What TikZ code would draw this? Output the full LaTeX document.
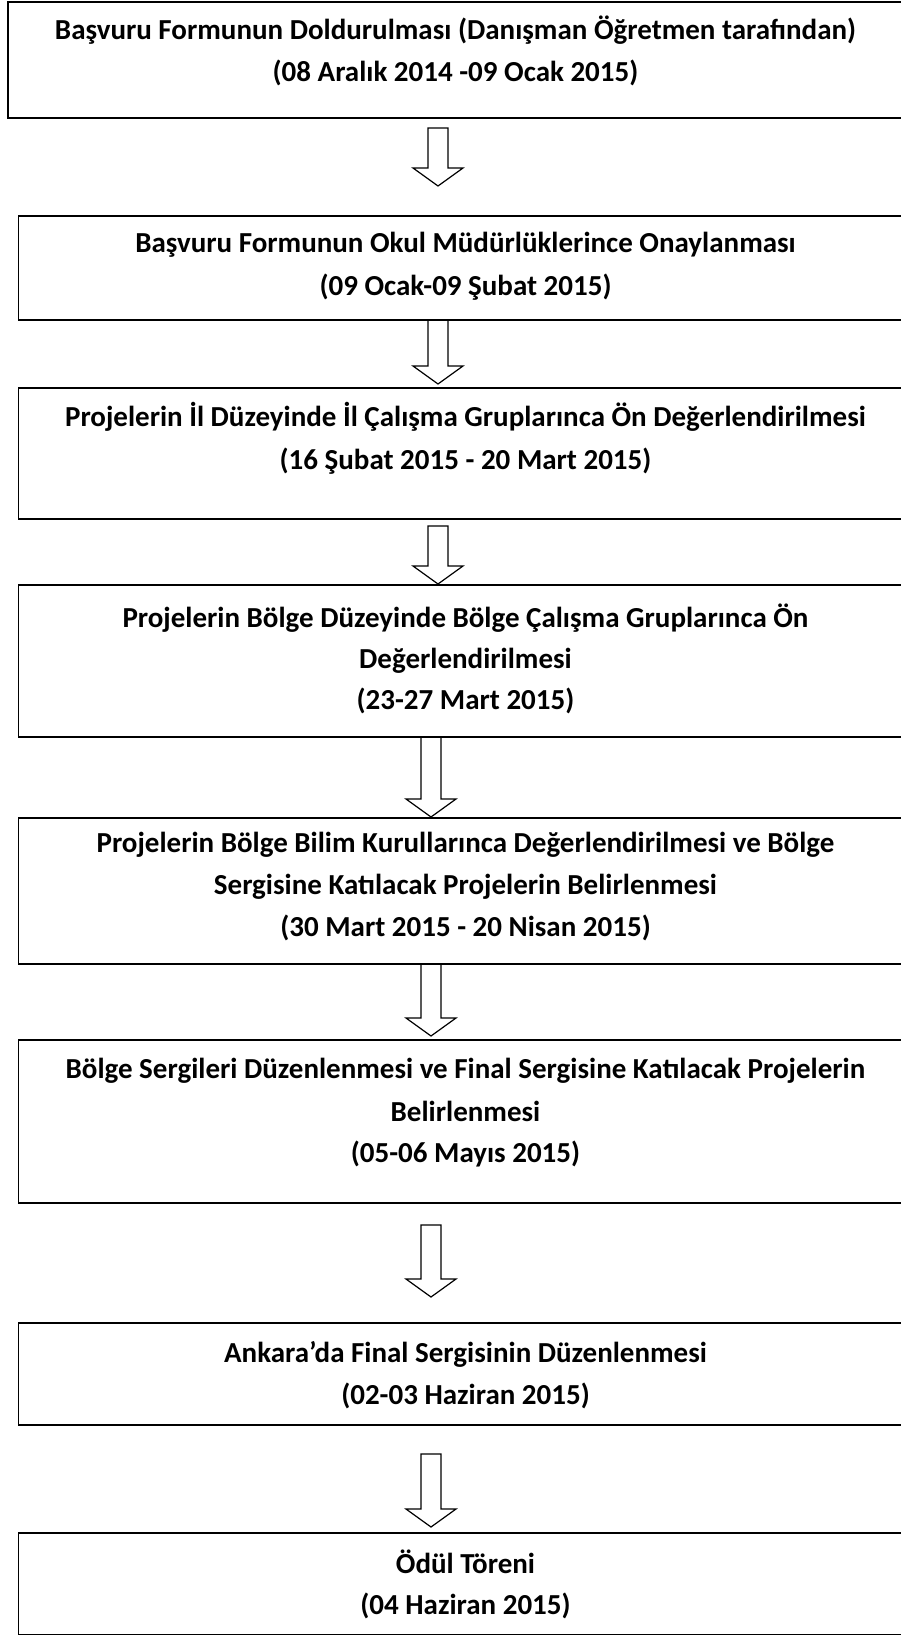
\documentclass[tikz,border=0pt]{standalone}
\usepackage{fontspec}
\setmainfont{Carlito}
\usetikzlibrary{calc}
\tikzset{
  box/.style={draw=black, line width=1.6pt, inner sep=0pt, anchor=north west, minimum width=896pt},
  txt/.style={font=\bfseries\fontsize{29}{34}\selectfont, anchor=base, inner sep=0pt},
  arrowline/.style={draw=black, line width=1.2pt, fill=white, line join=miter},
}
\newcommand\blockarrow[2]{%
  \draw[arrowline] let \p1=(#1), \p2=(#2) in
    (\x1-10pt,\y1) -- (\x1-10pt,\y2+18pt) -- (\x1-25pt,\y2+18pt) -- (\x1,\y2)
    -- (\x1+25pt,\y2+18pt) -- (\x1+10pt,\y2+18pt) -- (\x1+10pt,\y1) -- cycle;}
\begin{document}
\begin{tikzpicture}[x=1pt,y=-1pt]
\fill[white] (0,0) rectangle (901,1635);
\useasboundingbox (0,0) rectangle (901,1635);
\clip (0,0) rectangle (901,1635);

% arrow end points
\coordinate (a1s) at (438,128);  \coordinate (a1e) at (438,186);
\coordinate (a2s) at (438,320);  \coordinate (a2e) at (438,384);
\coordinate (a3s) at (438,526);  \coordinate (a3e) at (438,584);
\coordinate (a4s) at (431,737);  \coordinate (a4e) at (431,817);
\coordinate (a5s) at (431,964);  \coordinate (a5e) at (431,1036);
\coordinate (a6s) at (431,1225); \coordinate (a6e) at (431,1297);
\coordinate (a7s) at (431,1454); \coordinate (a7e) at (431,1527);

\blockarrow{a1s}{a1e}
\blockarrow{a2s}{a2e}
\blockarrow{a3s}{a3e}
\blockarrow{a4s}{a4e}
\blockarrow{a5s}{a5e}
\blockarrow{a6s}{a6e}
\blockarrow{a7s}{a7e}

% boxes
\node[box, minimum height=116pt] (b1) at (7,1) {};
\node[box, minimum height=104pt] (b2) at (17.5,215) {};
\node[box, minimum height=131pt] (b3) at (17.5,387) {};
\node[box, minimum height=152pt] (b4) at (17.5,584) {};
\node[box, minimum height=146pt] (b5) at (17.5,817) {};
\node[box, minimum height=163pt] (b6) at (17.5,1039) {};
\node[box, minimum height=102pt] (b7) at (17.5,1322) {};
\node[box, minimum height=102pt] (b8) at (17.5,1532) {};

% texts
\node[txt] (b1l1) at (455.5,40) {Başvuru Formunun Doldurulması (Danışman Öğretmen tarafından)};
\node[txt] (b1l2) at (455.5,82) {(08 Aralık 2014 -09 Ocak 2015)};

\node[txt] (b2l1) at (465.5,252) {Başvuru Formunun Okul Müdürlüklerince Onaylanması};
\node[txt] (b2l2) at (465.5,295) {(09 Ocak-09 Şubat 2015)};

\node[txt] (b3l1) at (465.5,426) {Projelerin İl Düzeyinde İl Çalışma Gruplarınca Ön Değerlendirilmesi};
\node[txt] (b3l2) at (465.5,469) {(16 Şubat 2015 - 20 Mart 2015)};

\node[txt] (b4l1) at (465.5,627) {Projelerin Bölge Düzeyinde Bölge Çalışma Gruplarınca Ön};
\node[txt] (b4l2) at (465.5,668) {Değerlendirilmesi};
\node[txt] (b4l3) at (465.5,709) {(23-27 Mart 2015)};

\node[txt] (b5l1) at (465.5,852) {Projelerin Bölge Bilim Kurullarınca Değerlendirilmesi ve Bölge};
\node[txt] (b5l2) at (465.5,894) {Sergisine Katılacak Projelerin Belirlenmesi};
\node[txt] (b5l3) at (465.5,936) {(30 Mart 2015 - 20 Nisan 2015)};

\node[txt] (b6l1) at (465.5,1078) {Bölge Sergileri Düzenlenmesi ve Final Sergisine Katılacak Projelerin};
\node[txt] (b6l2) at (465.5,1121) {Belirlenmesi};
\node[txt] (b6l3) at (465.5,1162) {(05-06 Mayıs 2015)};

\node[txt] (b7l1) at (465.5,1362) {Ankara’da Final Sergisinin Düzenlenmesi};
\node[txt] (b7l2) at (465.5,1404) {(02-03 Haziran 2015)};

\node[txt] (b8l1) at (465.5,1573) {Ödül Töreni};
\node[txt] (b8l2) at (465.5,1614) {(04 Haziran 2015)};
\end{tikzpicture}
\end{document}
